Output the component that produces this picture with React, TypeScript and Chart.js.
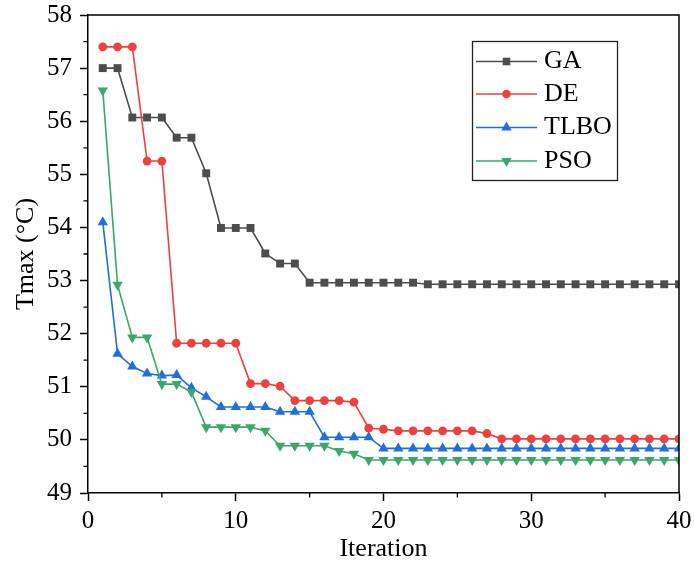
import React, { useEffect, useRef } from 'react';
import { Chart, registerables } from 'chart.js';

Chart.register(...registerables);

const iterations = [1, 2, 3, 4, 5, 6, 7, 8, 9, 10, 11, 12, 13, 14, 15, 16, 17, 18, 19, 20,
  21, 22, 23, 24, 25, 26, 27, 28, 29, 30, 31, 32, 33, 34, 35, 36, 37, 38, 39, 40];

const gaValues = [57.0, 57.0, 56.07, 56.07, 56.07, 55.69, 55.69, 55.02, 53.99, 53.99,
  53.99, 53.51, 53.32, 53.32, 52.96, 52.96, 52.96, 52.96, 52.96, 52.96,
  52.96, 52.96, 52.93, 52.93, 52.93, 52.93, 52.93, 52.93, 52.93, 52.93,
  52.93, 52.93, 52.93, 52.93, 52.93, 52.93, 52.93, 52.93, 52.93, 52.93];

const deValues = [57.4, 57.4, 57.4, 55.25, 55.25, 51.82, 51.82, 51.82, 51.82, 51.82,
  51.06, 51.06, 51.01, 50.74, 50.74, 50.74, 50.74, 50.71, 50.22, 50.2,
  50.17, 50.17, 50.17, 50.17, 50.17, 50.17, 50.12, 50.02, 50.02, 50.02,
  50.02, 50.02, 50.02, 50.02, 50.02, 50.02, 50.02, 50.02, 50.02, 50.02];

const tlboValues = [54.1, 51.62, 51.38, 51.25, 51.21, 51.22, 50.98, 50.81, 50.62, 50.62,
  50.62, 50.62, 50.53, 50.53, 50.53, 50.05, 50.05, 50.05, 50.05, 49.84,
  49.84, 49.84, 49.84, 49.84, 49.84, 49.84, 49.84, 49.84, 49.84, 49.84,
  49.84, 49.84, 49.84, 49.84, 49.84, 49.84, 49.84, 49.84, 49.84, 49.84];

const psoValues = [56.58, 52.92, 51.93, 51.93, 51.05, 51.05, 50.9, 50.24, 50.24, 50.24,
  50.24, 50.17, 49.89, 49.89, 49.89, 49.89, 49.79, 49.74, 49.62, 49.62,
  49.62, 49.62, 49.62, 49.62, 49.62, 49.62, 49.62, 49.62, 49.62, 49.62,
  49.62, 49.62, 49.62, 49.62, 49.62, 49.62, 49.62, 49.62, 49.62, 49.62];

const seriesNames = ['GA', 'DE', 'TLBO', 'PSO'];
const seriesColors = ['#4d4d4d', '#ef3f3f', '#1f6fe0', '#3aa86a'];
const seriesMarkers = ['rect', 'circle', 'triangle', 'triangleDown'];

const xMinorTicks = [5, 15, 25, 35];
const yMinorTicks = [49.5, 50.5, 51.5, 52.5, 53.5, 54.5, 55.5, 56.5, 57.5];

const SERIF = '"Liberation Serif", "Times New Roman", serif';

function drawMarker(ctx: CanvasRenderingContext2D, kind: string, x: number, y: number, color: string) {
  ctx.save();
  ctx.fillStyle = color;
  ctx.beginPath();
  if (kind === 'rect') {
    ctx.rect(x - 3.8, y - 3.8, 7.6, 7.6);
  } else if (kind === 'circle') {
    ctx.arc(x, y, 4.3, 0, Math.PI * 2);
  } else if (kind === 'triangle') {
    ctx.moveTo(x, y - 6);
    ctx.lineTo(x + 5.2, y + 3);
    ctx.lineTo(x - 5.2, y + 3);
    ctx.closePath();
  } else {
    ctx.moveTo(x, y + 6);
    ctx.lineTo(x + 5.2, y - 3);
    ctx.lineTo(x - 5.2, y - 3);
    ctx.closePath();
  }
  ctx.fill();
  ctx.restore();
}

const framePlugin = {
  id: 'frameAndLegend',
  afterDraw(chart: any) {
    const { ctx, chartArea, scales } = chart;
    const { left, right, top, bottom } = chartArea;
    ctx.save();
    ctx.strokeStyle = '#000';
    ctx.lineWidth = 1.5;
    ctx.beginPath();
    ctx.moveTo(left, top);
    ctx.lineTo(right, top);
    ctx.lineTo(right, bottom);
    ctx.stroke();

    ctx.lineWidth = 1.3;
    ctx.beginPath();
    yMinorTicks.forEach((v) => {
      const py = scales.y.getPixelForValue(v);
      ctx.moveTo(left - 4.5, py);
      ctx.lineTo(left, py);
    });
    xMinorTicks.forEach((v) => {
      const px = scales.x.getPixelForValue(v);
      ctx.moveTo(px, bottom);
      ctx.lineTo(px, bottom + 4.5);
    });
    ctx.stroke();

    // legend
    const boxL = 472.5, boxT = 41.5, boxW = 145, boxH = 139;
    ctx.lineWidth = 1.3;
    ctx.strokeStyle = '#222';
    ctx.strokeRect(boxL, boxT, boxW, boxH);
    const rows = [61.5, 94, 127.5, 161];
    ctx.font = `26px ${SERIF}`;
    ctx.textBaseline = 'middle';
    ctx.textAlign = 'left';
    seriesNames.forEach((name, i) => {
      const yy = rows[i];
      ctx.strokeStyle = seriesColors[i];
      ctx.lineWidth = 1.6;
      ctx.beginPath();
      ctx.moveTo(476, yy);
      ctx.lineTo(537, yy);
      ctx.stroke();
      drawMarker(ctx, seriesMarkers[i], 506.5, yy, seriesColors[i]);
      ctx.fillStyle = '#000';
      ctx.fillText(name, 544, yy);
    });
    ctx.restore();
  },
};

export default function App() {
  const ref = useRef<HTMLCanvasElement>(null);

  useEffect(() => {
    const seriesValues = [gaValues, deValues, tlboValues, psoValues];
    const datasets = seriesNames.map((name, i) => {
      const marker = seriesMarkers[i];
      return {
        label: name,
        data: iterations.map((it, k) => ({ x: it, y: seriesValues[i][k] })),
        borderColor: seriesColors[i],
        backgroundColor: seriesColors[i],
        borderWidth: 1.6,
        pointStyle: marker === 'triangleDown' ? 'triangle' : marker,
        rotation: marker === 'triangleDown' ? 180 : 0,
        pointRadius: marker === 'rect' ? 5.6 : marker === 'circle' ? 4.4 : 6,
        pointBorderWidth: 0,
        pointHoverRadius: 0,
        tension: 0,
        clip: 0,
        order: 4 - i,
      };
    });

    const tickFont = { family: SERIF, size: 25 };
    const chart = new Chart(ref.current as HTMLCanvasElement, {
      type: 'line',
      data: { datasets: datasets as any },
      options: {
        animation: false,
        responsive: false,
        events: [],
        layout: { padding: { left: 0, top: 15, right: 15, bottom: 0 } },
        plugins: {
          legend: { display: false },
          tooltip: { enabled: false },
        },
        scales: {
          x: {
            type: 'linear',
            min: 0,
            max: 40,
            ticks: { stepSize: 10, font: tickFont, color: '#000', padding: 5, maxRotation: 0 },
            grid: { display: true, drawOnChartArea: false, drawTicks: true, tickLength: 8, tickColor: '#000', tickWidth: 1.5 },
            border: { display: true, color: '#000', width: 1.5 },
            title: { display: true, text: 'Iteration', color: '#000', font: { family: SERIF, size: 26 }, padding: { top: 0, bottom: 3 } },
            afterFit: (s: any) => {
              s.height = 75;
              s.paddingLeft = 0;
              s.paddingRight = 0;
              s.paddingTop = 0;
              s.paddingBottom = 0;
            },
          },
          y: {
            type: 'linear',
            min: 49,
            max: 58,
            ticks: { stepSize: 1, font: tickFont, color: '#000', padding: 8 },
            grid: { display: true, drawOnChartArea: false, drawTicks: true, tickLength: 8, tickColor: '#000', tickWidth: 1.5 },
            border: { display: true, color: '#000', width: 1.5 },
            title: { display: true, text: 'Tmax (°C)', color: '#000', font: { family: SERIF, size: 26 }, padding: { top: 11, bottom: 0 } },
            afterFit: (s: any) => {
              s.width = 88;
              s.paddingLeft = 0;
              s.paddingRight = 0;
              s.paddingTop = 0;
              s.paddingBottom = 0;
            },
          },
        },
      },
      plugins: [framePlugin],
    });
    return () => chart.destroy();
  }, []);

  return (
    <div style={{ position: 'absolute', left: 0, top: 0, width: 694, height: 568, background: '#fff' }}>
      <canvas ref={ref} width={694} height={568} style={{ display: 'block' }} />
    </div>
  );
}
